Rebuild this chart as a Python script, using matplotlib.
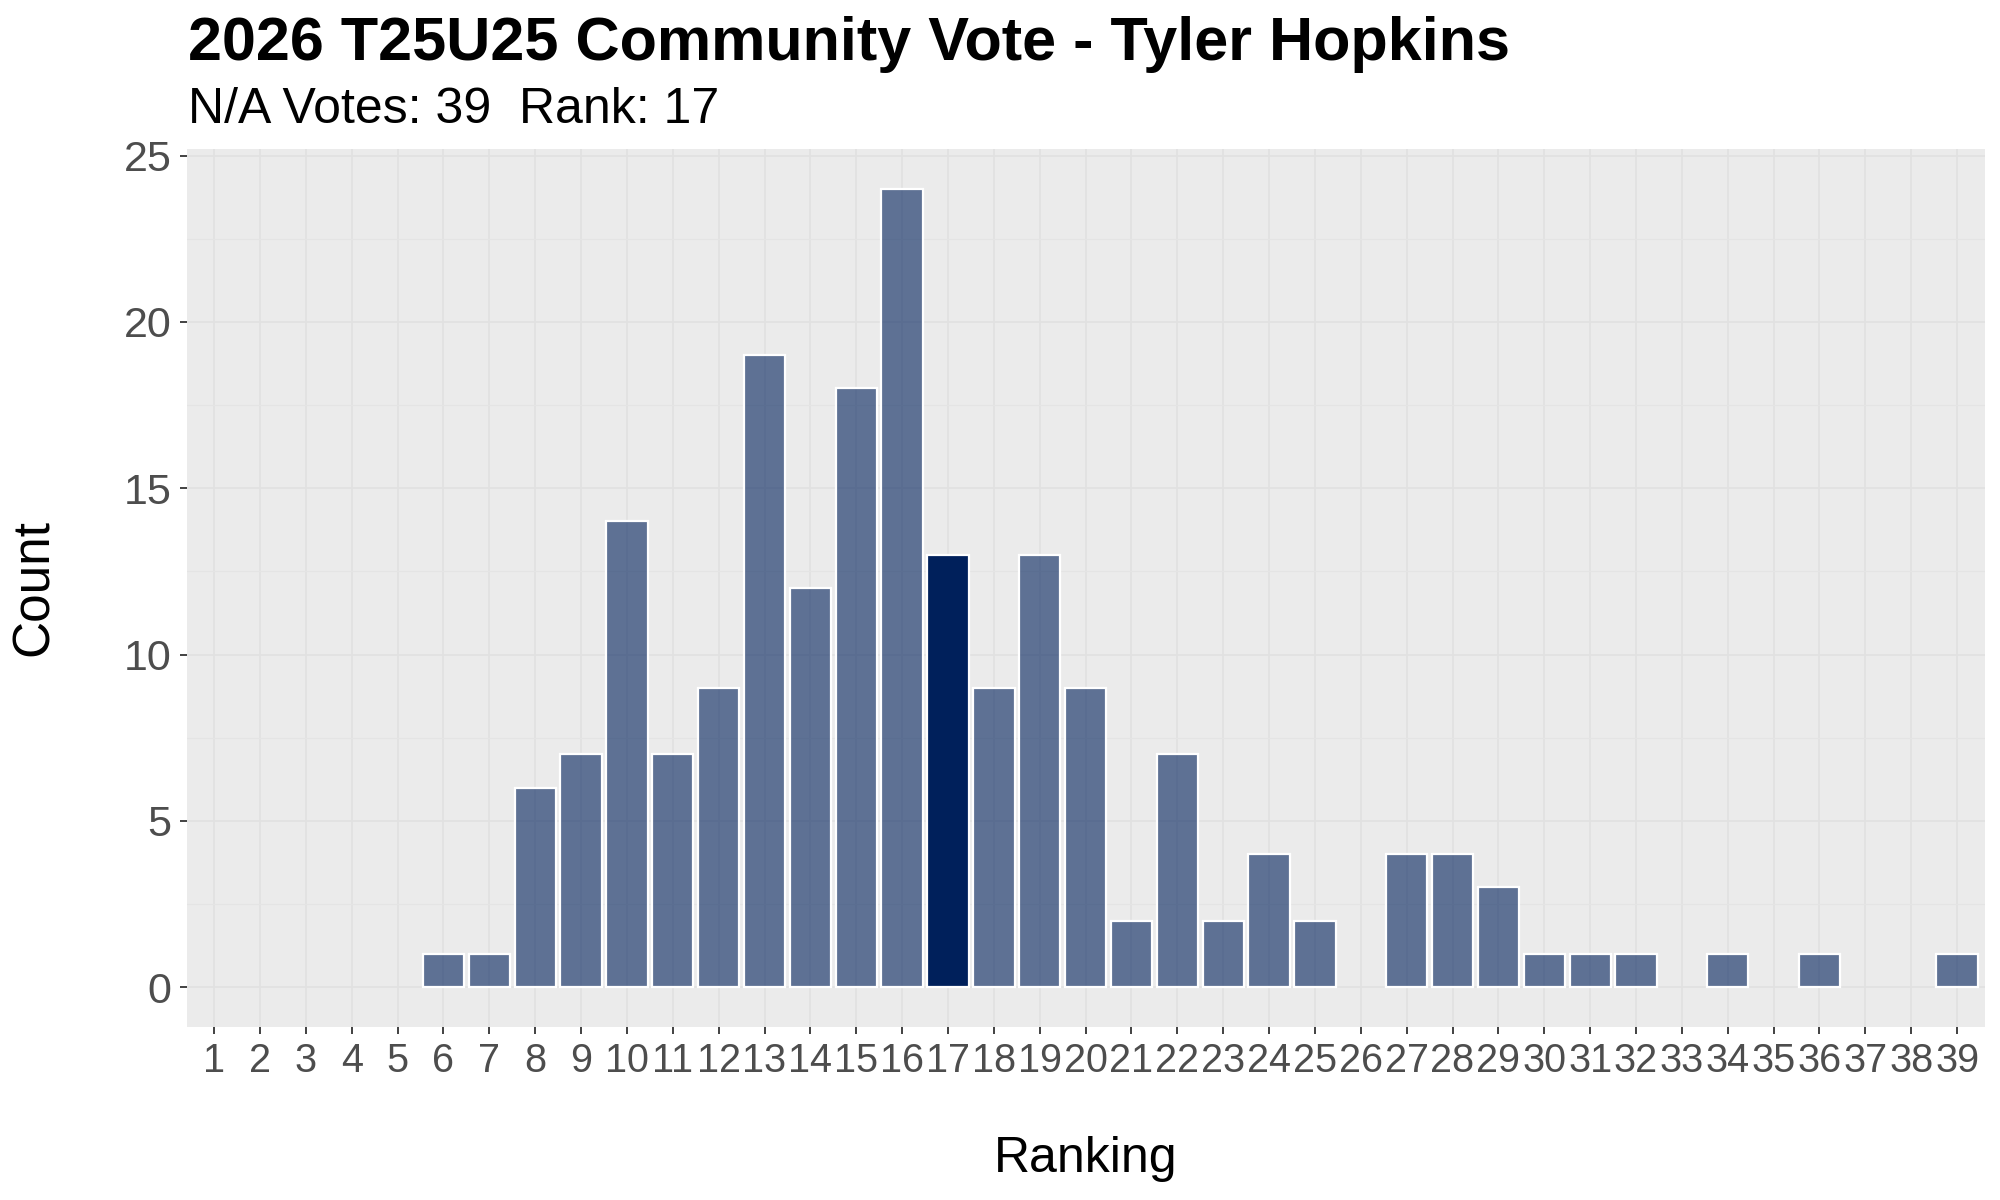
import matplotlib
matplotlib.use("Agg")
import matplotlib.pyplot as plt
from matplotlib.ticker import MultipleLocator

rankings = list(range(1, 40))
counts = [0, 0, 0, 0, 0, 1, 1, 6, 7, 14, 7, 9, 19, 12, 18, 24, 13, 9, 13, 9,
          2, 7, 2, 4, 2, 0, 4, 4, 3, 1, 1, 1, 0, 1, 0, 1, 0, 0, 1]
highlight_rank = 17
title = "2026 T25U25 Community Vote - Tyler Hopkins"
subtitle = "N/A Votes: 39  Rank: 17"
xlabel = "Ranking"
ylabel = "Count"

navy = (0 / 255, 32 / 255, 91 / 255)
faded = (*navy, 0.6)

plt.rcParams['font.family'] = ['Liberation Sans', 'DejaVu Sans']

fig = plt.figure(figsize=(20, 12), dpi=100)
ax = fig.add_axes([0.0933, 0.1442, 0.9923 - 0.0933, 0.8758 - 0.1442])
ax.set_facecolor('#EBEBEB')
for s in ax.spines.values():
    s.set_visible(False)

bar_x = [r for r, c in zip(rankings, counts) if c > 0]
bar_h = [c for c in counts if c > 0]
colors = [navy if r == highlight_rank else faded for r in bar_x]
ax.bar(bar_x, bar_h, width=0.9, color=colors, edgecolor='white',
       linewidth=1.6, zorder=3)

ax.set_xlim(0.4, 39.6)
ax.set_ylim(-1.2, 25.2)
ax.set_xticks(rankings)
ax.set_xticklabels([str(r) for r in rankings])
ax.yaxis.set_major_locator(MultipleLocator(5))
ax.yaxis.set_minor_locator(MultipleLocator(2.5))
ax.grid(which='major', axis='both', color='#E1E1E1', linewidth=1.2, zorder=0)
ax.grid(which='minor', axis='y', color='#E4E4E4', linewidth=0.9, zorder=0)
ax.set_axisbelow(True)
ax.tick_params(axis='both', which='major', length=5, width=1.3, color='#333333',
               labelcolor='#4D4D4D')
ax.tick_params(axis='x', which='major', labelsize=28.5, pad=5.5)
ax.tick_params(axis='y', which='major', labelsize=31, pad=6)
ax.tick_params(axis='y', which='minor', length=0)

fig.text(1085.5 / 2000, 1 - 1172 / 1200, xlabel, fontsize=36, color='black',
         ha='center', va='baseline')
fig.text(34 / 2000, 1 - 588 / 1200, ylabel, fontsize=37, color='black',
         ha='center', va='center', rotation=90)

fig.text(188 / 2000, 1 - 60 / 1200, title, fontsize=44, fontweight='bold',
         ha='left', va='baseline', color='black')
fig.text(188 / 2000, 1 - 123 / 1200, subtitle, fontsize=36,
         ha='left', va='baseline', color='black')

fig.savefig('out.png', dpi=100, facecolor='white')
